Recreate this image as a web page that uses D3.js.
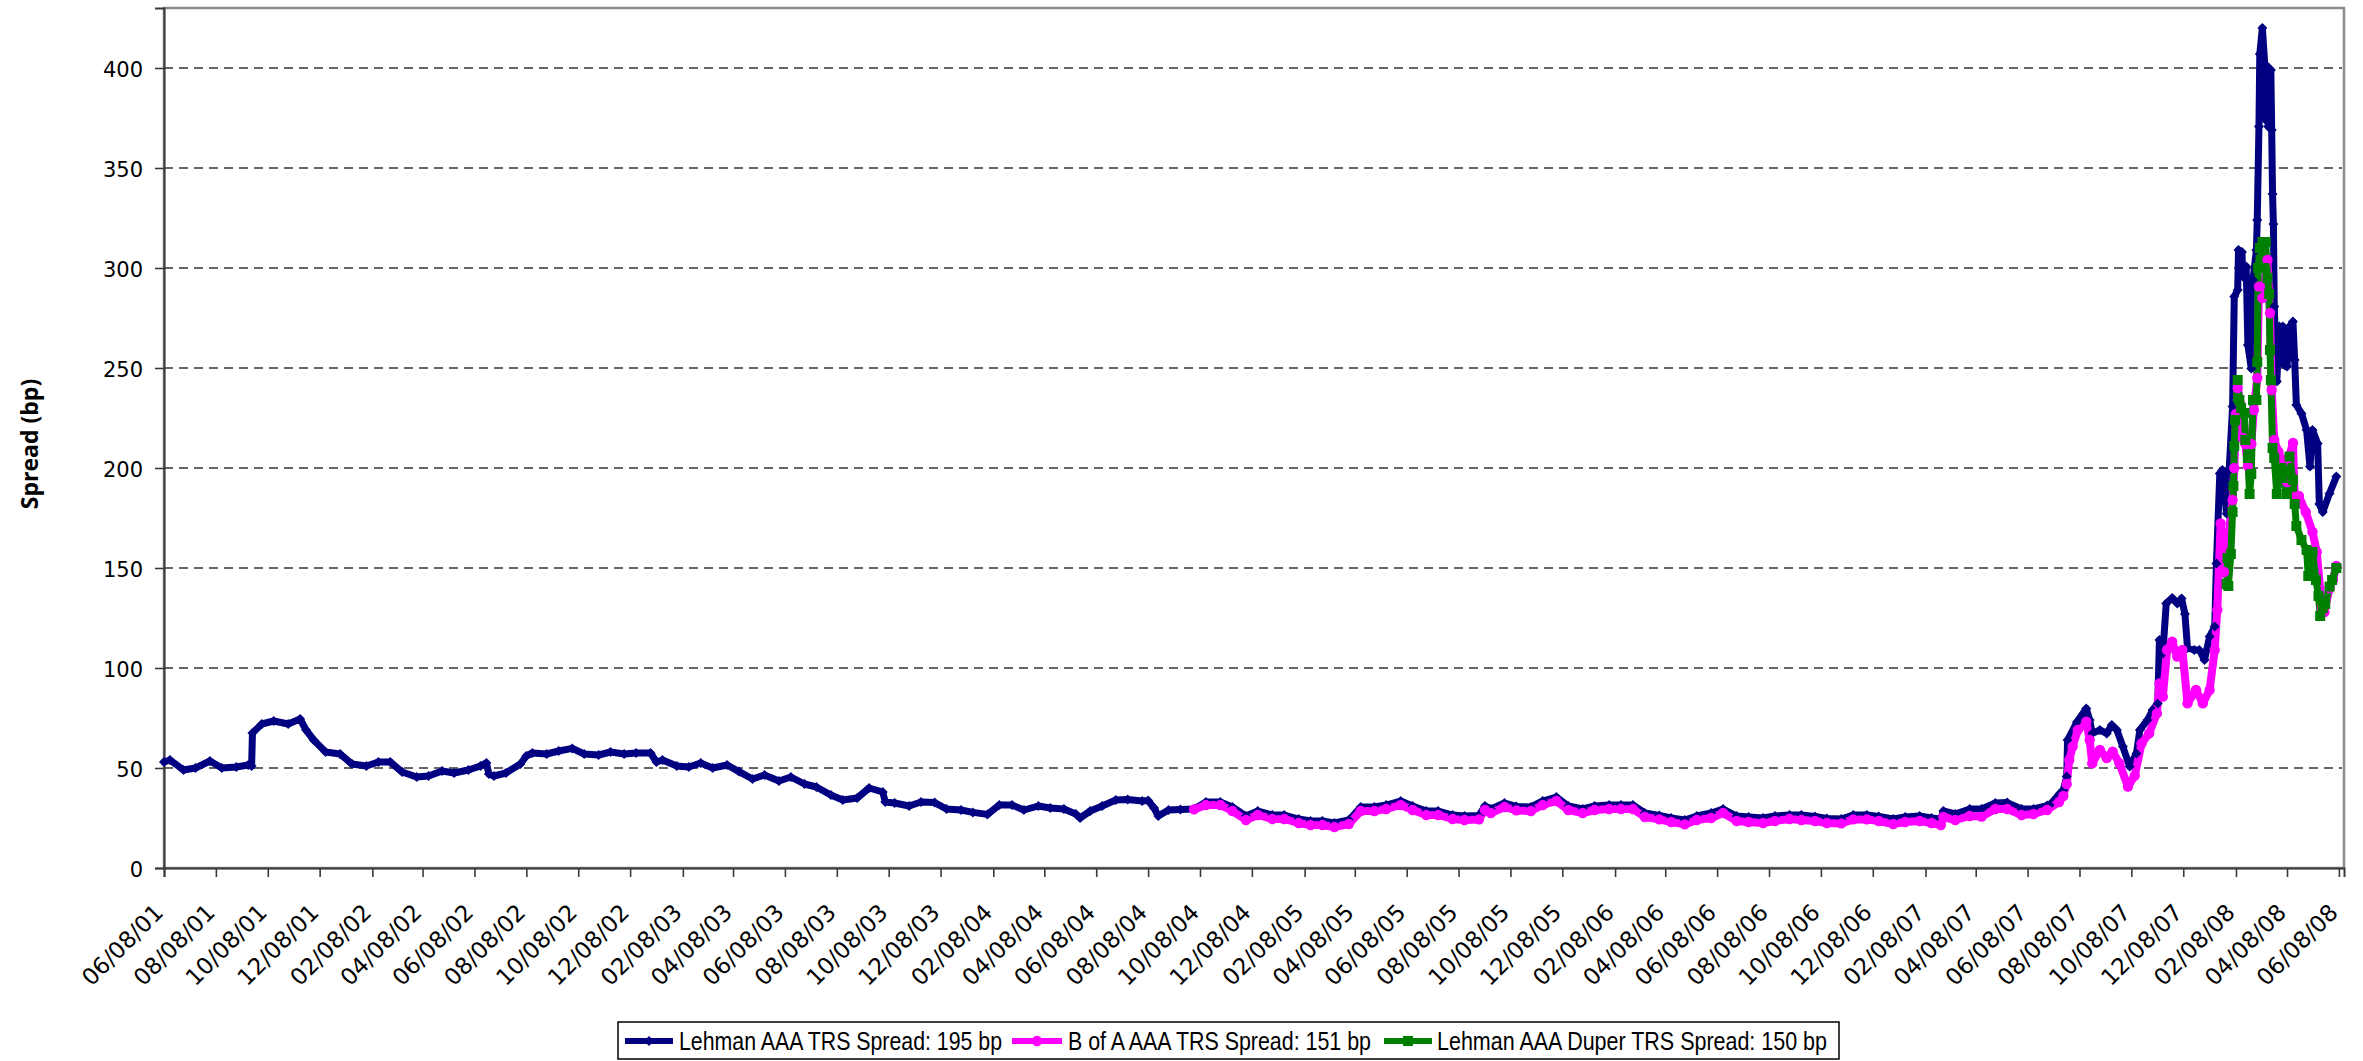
<!DOCTYPE html>
<html>
<head>
<meta charset="utf-8">
<script src="https://d3js.org/d3.v7.min.js"></script>
<style>
  body { margin: 0; background: #ffffff; }
  svg { display: block; }
</style>
</head>
<body>
<svg id="chart" width="2363" height="1061"></svg>
<script>
// ---- data ----
const yTicks = [0, 50, 100, 150, 200, 250, 300, 350, 400];

const xTickLabels = ["06/08/01","08/08/01","10/08/01","12/08/01","02/08/02","04/08/02","06/08/02","08/08/02",
  "10/08/02","12/08/02","02/08/03","04/08/03","06/08/03","08/08/03","10/08/03","12/08/03","02/08/04","04/08/04",
  "06/08/04","08/08/04","10/08/04","12/08/04","02/08/05","04/08/05","06/08/05","08/08/05","10/08/05","12/08/05",
  "02/08/06","04/08/06","06/08/06","08/08/06","10/08/06","12/08/06","02/08/07","04/08/07","06/08/07","08/08/07",
  "10/08/07","12/08/07","02/08/08","04/08/08","06/08/08"];

const seriesNames = ["Lehman AAA TRS Spread: 195 bp", "B of A AAA TRS Spread: 151 bp", "Lehman AAA Duper TRS Spread: 150 bp"];

const lehmanTRS = [
  ["06/08/01",53],["06/15/01",54],["07/01/01",49],["07/15/01",50],["08/01/01",53.5],["08/15/01",50],
  ["09/01/01",50.5],["09/15/01",51.5],["09/19/01",51],["09/20/01",67.5],["10/01/01",72],["10/15/01",73.5],
  ["11/01/01",72],["11/15/01",74.5],["11/22/01",69],["12/01/01",64],["12/15/01",58],["01/01/02",57],
  ["01/15/02",52],["02/01/02",51],["02/15/02",53],["03/01/02",53],["03/15/02",48],["04/01/02",45.5],
  ["04/15/02",46],["05/01/02",48.5],["05/15/02",47.5],["06/01/02",49],["06/15/02",51],["06/22/02",52.5],
  ["06/25/02",47],["07/01/02",46],["07/15/02",47.5],["08/01/02",52],["08/08/02",56],["08/15/02",57.5],
  ["09/01/02",57],["09/15/02",58.5],["10/01/02",59.8],["10/15/02",57],["11/01/02",56.5],["11/15/02",58],
  ["12/01/02",57],["12/15/02",57.5],["01/01/03",57.5],["01/08/03",53],["01/15/03",54],["02/01/03",51],
  ["02/15/03",50.5],["03/01/03",52.5],["03/15/03",50],["04/01/03",51.5],["04/15/03",48.2],["05/01/03",44.5],
  ["05/15/03",46.5],["06/01/03",43.5],["06/15/03",45.5],["07/01/03",42],["07/15/03",40.5],["08/01/03",36.5],
  ["08/15/03",34],["09/01/03",35],["09/15/03",40],["10/01/03",38],["10/04/03",33],["10/15/03",32.5],
  ["11/01/03",31],["11/15/03",33],["12/01/03",32.7],["12/15/03",29.5],["01/01/04",29],["01/15/04",27.8],
  ["02/01/04",26.8],["02/15/04",31.5],["03/01/04",31.5],["03/15/04",29],["04/01/04",31],["04/15/04",30],
  ["05/01/04",29.5],["05/15/04",27],["05/20/04",25],["06/01/04",28.5],["06/15/04",31],["07/01/04",34],
  ["07/15/04",34.3],["08/01/04",33.5],["08/08/04",33.7],["08/15/04",30],["08/20/04",26],["09/01/04",29],
  ["09/15/04",29.3],["10/01/04",29.5],["10/15/04",33],["11/01/04",33],["11/15/04",30.5],["12/01/04",26],
  ["12/15/04",28.5],["01/01/05",26.5],["01/15/05",26.5],["02/01/05",24.5],["02/15/05",23.5],["03/01/05",23.5],
  ["03/15/05",22.5],["04/01/05",24],["04/15/05",30.5],["05/01/05",30.5],["05/15/05",31.5],["06/01/05",33.5],
  ["06/15/05",31],["07/01/05",28.5],["07/15/05",28.5],["08/01/05",26.5],["08/15/05",26],["09/01/05",26.3],
  ["09/08/05",31],["09/15/05",29.5],["10/01/05",32.5],["10/15/05",30.8],["11/01/05",30.5],["11/15/05",33.5],
  ["12/01/05",35.5],["12/15/05",31],["01/01/06",29.5],["01/15/06",31],["02/01/06",31.5],["02/15/06",31.5],
  ["03/01/06",31.5],["03/15/06",27.5],["04/01/06",26.3],["04/15/06",25],["05/01/06",24],["05/15/06",26],
  ["06/01/06",27.5],["06/15/06",29.5],["07/01/06",26],["07/15/06",25.5],["08/01/06",25],["08/15/06",26],
  ["09/01/06",26.5],["09/15/06",26.5],["10/01/06",25.8],["10/15/06",24.8],["11/01/06",24.5],["11/15/06",26.5],
  ["12/01/06",26.5],["12/15/06",25.8],["01/01/07",24.5],["01/15/07",25.5],["02/01/07",26],["02/15/07",25],
  ["02/26/07",24.5],["03/01/07",28.5],["03/15/07",27],["04/01/07",29.5],["04/15/07",29.5],["05/01/07",32.5],
  ["05/15/07",32.7],["06/01/07",29.5],["06/15/07",29.5],["07/01/07",31.2],["07/04/07",31.5],["07/16/07",37.3],
  ["07/20/07",39],["07/24/07",45.7],["07/25/07",64],["08/05/07",73],["08/16/07",79.8],["08/20/07",74],
  ["08/23/07",67.3],["09/01/07",69],["09/09/07",67.3],["09/15/07",71.5],["09/21/07",69],["09/28/07",60.7],
  ["10/06/07",50.7],["10/14/07",57.3],["10/18/07",69],["10/27/07",74],["11/02/07",79],["11/08/07",82.3],
  ["11/10/07",114],["11/14/07",107.3],["11/18/07",132.3],["11/25/07",135],["12/01/07",132.3],["12/06/07",134.8],
  ["12/10/07",127],["12/13/07",110],["12/21/07",109],["12/27/07",109],["01/02/08",104],["01/08/08",115.7],
  ["01/14/08",120.7],["01/16/08",152.3],["01/20/08",197.3],["01/23/08",199],["01/28/08",177.3],["01/31/08",199],
  ["02/04/08",230.7],["02/06/08",285.7],["02/10/08",289],["02/11/08",309],["02/15/08",308],["02/16/08",295.7],
  ["02/20/08",300.7],["02/22/08",261.5],["02/26/08",249.8],["02/28/08",294],["03/03/08",309],["03/04/08",324],
  ["03/06/08",370.7],["03/07/08",407],["03/10/08",420],["03/13/08",400.7],["03/14/08",374],["03/16/08",400.7],
  ["03/17/08",370.7],["03/20/08",399],["03/21/08",369],["03/22/08",337],["03/23/08",322],["03/24/08",280.7],
  ["03/27/08",243.2],["03/30/08",270.7],["04/03/08",270.7],["04/05/08",251.5],["04/08/08",250.7],["04/11/08",270.7],
  ["04/15/08",273.2],["04/17/08",254],["04/19/08",231.5],["04/25/08",227.3],["05/01/08",219],["05/05/08",200.7],
  ["05/08/08",219],["05/14/08",212.3],["05/16/08",182],["05/20/08",178],["05/28/08",187.3],["06/05/08",195.7]
];

const bofaTRS = [
  ["10/01/04",29.3],["10/15/04",31.5],["11/01/04",31.5],["11/15/04",28.5],["12/01/04",24],["12/15/04",26.5],
  ["01/01/05",24.5],["01/15/05",24.5],["02/01/05",22.5],["02/15/05",21.5],["03/01/05",21.5],["03/15/05",20.5],
  ["04/01/05",22],["04/15/05",28.5],["05/01/05",28.5],["05/15/05",29.5],["06/01/05",31.5],["06/15/05",29],
  ["07/01/05",26.5],["07/15/05",26.5],["08/01/05",24.5],["08/15/05",24],["09/01/05",24.3],["09/08/05",29],
  ["09/15/05",27.5],["10/01/05",30.5],["10/15/05",28.8],["11/01/05",28.5],["11/15/05",31.5],["12/01/05",33.5],
  ["12/15/05",29],["01/01/06",27.5],["01/15/06",29],["02/01/06",29.5],["02/15/06",29.5],["03/01/06",29.5],
  ["03/15/06",25.5],["04/01/06",24.3],["04/15/06",23],["05/01/06",21.8],["05/15/06",24],["06/01/06",25],
  ["06/15/06",27.5],["07/01/06",23.5],["07/15/06",23],["08/01/06",22.5],["08/15/06",23.5],["09/01/06",24.5],
  ["09/15/06",24],["10/01/06",23.5],["10/15/06",22.5],["11/01/06",22.3],["11/15/06",24.3],["12/01/06",24.3],
  ["12/15/06",23.5],["01/01/07",22],["01/15/07",23],["02/01/07",23.5],["02/15/07",22.5],["02/26/07",21.5],
  ["03/01/07",25.5],["03/15/07",24],["04/01/07",26],["04/15/07",25.7],["05/01/07",29.5],["05/15/07",29.5],
  ["06/01/07",26.5],["06/15/07",27],["07/01/07",29],["07/15/07",33],["07/20/07",36],["07/24/07",42],
  ["07/27/07",54],["07/31/07",60.7],["08/06/07",69],["08/16/07",73.2],["08/20/07",64],["08/23/07",52.3],
  ["09/01/07",59],["09/09/07",55],["09/16/07",58.2],["09/24/07",52.3],["10/04/07",40.7],["10/12/07",46.2],
  ["10/20/07",62.3],["10/29/07",67.3],["11/07/07",77.3],["11/10/07",92.3],["11/14/07",85.7],["11/19/07",109],
  ["11/25/07",113.2],["12/01/07",105.7],["12/07/07",109],["12/13/07",82.3],["12/23/07",89],["12/31/07",82.3],
  ["01/08/08",89],["01/14/08",109],["01/17/08",129],["01/21/08",172.3],["01/25/08",148],["02/04/08",184],
  ["02/06/08",200],["02/08/08",227],["02/10/08",240],["02/13/08",232],["02/16/08",215],["02/19/08",212],
  ["02/22/08",201],["02/26/08",212],["02/29/08",229],["03/04/08",245],["03/06/08",290.7],["03/10/08",285],
  ["03/16/08",304],["03/19/08",277.5],["03/21/08",239],["03/24/08",214],["03/29/08",208],["04/03/08",203],
  ["04/08/08",193],["04/10/08",205],["04/15/08",212.5],["04/17/08",185.5],["04/22/08",186],["04/30/08",178],
  ["05/08/08",168],["05/13/08",158],["05/19/08",130],["05/22/08",128],["05/28/08",140],["06/01/08",144],
  ["06/05/08",151]
];

const duperTRS = [
  ["01/28/08",142],["01/29/08",155],["01/30/08",141],["02/02/08",157],["02/04/08",178],["02/05/08",191],
  ["02/06/08",211],["02/07/08",224],["02/10/08",244],["02/12/08",234],["02/14/08",230],["02/18/08",227.5],
  ["02/19/08",214],["02/22/08",205],["02/24/08",187],["02/26/08",197],["02/28/08",234],["03/03/08",234],
  ["03/04/08",253],["03/05/08",300],["03/07/08",310],["03/10/08",313],["03/12/08",300],["03/14/08",313],
  ["03/16/08",295],["03/18/08",287],["03/19/08",259],["03/20/08",244],["03/22/08",210],["03/24/08",205],
  ["03/27/08",187],["04/01/08",200],["04/03/08",195],["04/08/08",187],["04/11/08",205.7],["04/15/08",194],
  ["04/17/08",182],["04/19/08",171],["04/25/08",164],["05/01/08",159],["05/03/08",146],["05/05/08",154],
  ["05/08/08",158],["05/12/08",144],["05/15/08",136],["05/17/08",126],["05/20/08",130],["05/23/08",132],
  ["05/28/08",140.7],["05/31/08",144],["06/05/08",150]
];

// ---- layout ----
const svg = d3.select("#chart");
const plotLeft = 164, plotRight = 2344, plotTop = 8, plotBottom = 868;
const parseDate = d3.timeParse("%m/%d/%y");
const fmt = d3.timeFormat("%m/%d/%y");

const x = d3.scaleTime()
  .domain([parseDate("06/08/01"), parseDate("06/14/08")])
  .range([plotLeft, plotRight]);
const y = d3.scaleLinear()
  .domain([0, 430])
  .range([plotBottom, plotTop]);

// plot area frame
svg.append("rect")
  .attr("x", plotLeft).attr("y", plotTop)
  .attr("width", plotRight - plotLeft).attr("height", plotBottom - plotTop)
  .attr("fill", "none")
  .attr("stroke", "#8c8c8c")
  .attr("stroke-width", 2.5);

// gridlines
svg.append("g")
  .selectAll("line")
  .data(yTicks.filter(d => d > 0))
  .enter().append("line")
  .attr("x1", plotLeft).attr("x2", plotRight - 2)
  .attr("y1", d => y(d)).attr("y2", d => y(d))
  .attr("stroke", "#333")
  .attr("stroke-width", 1.4)
  .attr("stroke-dasharray", "9,6");

// y axis
const yAxis = d3.axisLeft(y).tickValues(yTicks).tickSize(9).tickPadding(12);
const gy = svg.append("g").attr("transform", "translate(" + plotLeft + ",0)").call(yAxis);
gy.select(".domain").attr("stroke", "#3a3a3a").attr("stroke-width", 2);
gy.selectAll(".tick line").attr("stroke", "#3a3a3a").attr("stroke-width", 1.6);
gy.selectAll(".tick text")
  .attr("dy", "0.42em")
  .style("font-family", "'DejaVu Sans', sans-serif")
  .style("font-size", "21px")
  .attr("fill", "#000");

// x axis
const xAxis = d3.axisBottom(x)
  .tickValues(xTickLabels.map(parseDate))
  .tickFormat(fmt)
  .tickSize(9);
const gx = svg.append("g").attr("transform", "translate(0," + plotBottom + ")").call(xAxis);
gx.select(".domain").attr("stroke", "#3a3a3a").attr("stroke-width", 2);
gx.selectAll(".tick line").attr("stroke", "#3a3a3a").attr("stroke-width", 1.6);
gx.selectAll(".tick text")
  .attr("x", 0).attr("y", 0).attr("dy", 0)
  .attr("text-anchor", "end")
  .attr("transform", "translate(0,46) rotate(-45)")
  .style("font-family", "'DejaVu Sans', sans-serif")
  .style("font-size", "23px")
  .attr("fill", "#000");

// y title
svg.append("text")
  .attr("transform", "translate(38,444) rotate(-90)")
  .attr("text-anchor", "middle")
  .style("font-family", "'Open Sans', sans-serif")
  .style("font-weight", "bold")
  .style("font-size", "23px")
  .text("Spread (bp)");

// ---- series ----
const styles = [
  { data: lehmanTRS, color: "#000080", width: 7, marker: "diamond", r: 5 },
  { data: bofaTRS, color: "#ff00ff", width: 8, marker: "circle", r: 5.2 },
  { data: duperTRS, color: "#008000", width: 7, marker: "square", r: 5 }
];

function markerPath(type, r) {
  if (type === "diamond") return "M0," + (-r) + "L" + r + ",0L0," + r + "L" + (-r) + ",0Z";
  if (type === "square") return "M" + (-r) + "," + (-r) + "h" + (2 * r) + "v" + (2 * r) + "h" + (-2 * r) + "Z";
  return d3.symbol(d3.symbolCircle, Math.PI * r * r)();
}

const line = d3.line()
  .x(d => x(parseDate(d[0])))
  .y(d => y(d[1]));

const plot = svg.append("g");
styles.forEach(function (s) {
  plot.append("path")
    .attr("d", line(s.data))
    .attr("fill", "none")
    .attr("stroke", s.color)
    .attr("stroke-width", s.width)
    .attr("stroke-linejoin", "round")
    .attr("stroke-linecap", "round");
});
styles.forEach(function (s) {
  plot.append("g")
    .selectAll("path")
    .data(s.data)
    .enter().append("path")
    .attr("transform", d => "translate(" + x(parseDate(d[0])) + "," + y(d[1]) + ")")
    .attr("d", markerPath(s.marker, s.r))
    .attr("fill", s.color);
});

// ---- legend ----
const legend = svg.append("g");
legend.append("rect")
  .attr("x", 618).attr("y", 1022)
  .attr("width", 1221).attr("height", 37)
  .attr("fill", "#fff")
  .attr("stroke", "#000")
  .attr("stroke-width", 1.5);

const legendItems = [
  { x0: 625, x1: 673, tx: 679, tw: 323 },
  { x0: 1012, x1: 1062, tx: 1068, tw: 303 },
  { x0: 1384, x1: 1432, tx: 1437, tw: 390 }
];
legendItems.forEach(function (it, i) {
  const s = styles[i];
  const cy = 1041;
  legend.append("line")
    .attr("x1", it.x0).attr("x2", it.x1)
    .attr("y1", cy).attr("y2", cy)
    .attr("stroke", s.color)
    .attr("stroke-width", 6);
  legend.append("path")
    .attr("transform", "translate(" + ((it.x0 + it.x1) / 2) + "," + cy + ")")
    .attr("d", markerPath(s.marker, s.r))
    .attr("fill", s.color);
  legend.append("text")
    .attr("x", it.tx).attr("y", cy + 9)
    .attr("textLength", it.tw)
    .attr("lengthAdjust", "spacingAndGlyphs")
    .style("font-family", "'Liberation Sans Narrow', 'Liberation Sans', sans-serif")
    .style("font-size", "25px")
    .text(seriesNames[i]);
});
</script>
</body>
</html>
